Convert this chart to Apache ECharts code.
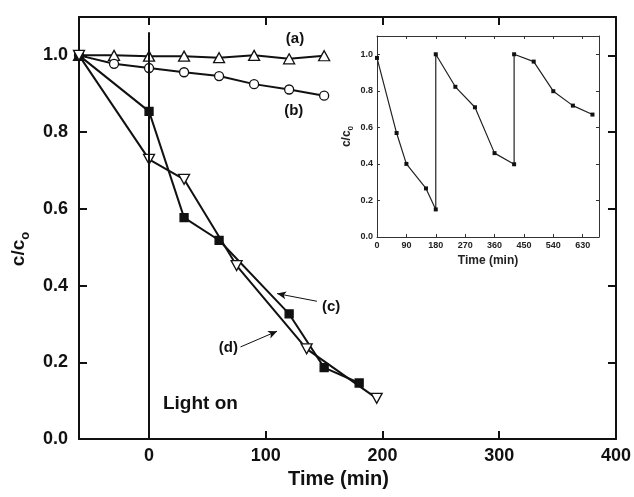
<!DOCTYPE html>
<html>
<head>
<meta charset="utf-8">
<script src="https://cdn.jsdelivr.net/npm/echarts/dist/echarts.min.js"></script>
<style>html,body{margin:0;padding:0;background:#fff;}#c{width:634px;height:497px;}</style>
</head>
<body>
<div id="c"></div>
<script>
// ---- main chart data ----
const timeA = [-60, -30, 0, 30, 60, 90, 120, 150];
const valuesA = [1.0, 1.0, 0.998, 0.998, 0.994, 1.0, 0.991, 0.999];
const timeB = [-60, -30, 0, 30, 60, 90, 120, 150];
const valuesB = [1.0, 0.978, 0.967, 0.956, 0.946, 0.925, 0.911, 0.895];
const timeC = [-60, 0, 30, 60, 120, 150, 180];
const valuesC = [1.0, 0.854, 0.577, 0.518, 0.326, 0.186, 0.146];
const timeD = [-60, 0, 30, 75, 135, 195];
const valuesD = [1.0, 0.729, 0.677, 0.452, 0.235, 0.106];
const mainXTicks = [0, 100, 200, 300, 400];
const mainYTicks = [0, 0.2, 0.4, 0.6, 0.8, 1.0];
const lightOnTime = 0;

// ---- inset data ----
const insetTime = [0, 60, 90, 150, 180, 180, 240, 300, 360, 420, 420, 480, 540, 600, 660];
const insetValues = [0.98, 0.569, 0.40, 0.266, 0.151, 1.0, 0.822, 0.71, 0.459, 0.398, 1.0, 0.96, 0.798, 0.719, 0.67];
const insetXTicks = [0, 90, 180, 270, 360, 450, 540, 630];
const insetYTicks = [0, 0.2, 0.4, 0.6, 0.8, 1.0];

// ---- annotation texts ----
const curveLabels = ['(a)', '(b)', '(c)', '(d)'];
const lightOnText = 'Light on';

const zip = (xs, ys) => xs.map((x, i) => [x, ys[i]]);
const F = '"Liberation Sans", Arial, sans-serif';
const black = '#111';

const chart = echarts.init(document.getElementById('c'), null, {renderer: 'canvas'});

const mainAxisCommon = {
  axisLine: {show: true, onZero: false, lineStyle: {color: black, width: 2}},
  axisTick: {show: true, inside: true, length: 8, lineStyle: {color: black, width: 2}},
  splitLine: {show: false}
};
const insetAxisCommon = {
  axisLine: {show: true, onZero: false, lineStyle: {color: '#333', width: 1}},
  axisTick: {show: true, inside: true, length: 3, lineStyle: {color: '#333', width: 1}},
  splitLine: {show: false}
};

function lineSeries(name, data, symbol, size, rotate, filled) {
  return {
    name, type: 'line', xAxisIndex: 0, yAxisIndex: 0, data,
    symbol, symbolSize: size, symbolRotate: rotate, showAllSymbol: true,
    lineStyle: {color: black, width: 2},
    itemStyle: {color: filled ? black : '#fff', borderColor: black, borderWidth: 1.3},
    z: 3
  };
}

function textPoint(text, coord, size) {
  return {
    coord, symbol: 'circle', symbolSize: 0, value: text,
    label: {show: true, position: 'inside', formatter: text, color: black,
      fontFamily: F, fontWeight: 'bold', fontSize: size}
  };
}

const option = {
  backgroundColor: '#fff',
  animation: false,
  grid: [
    {left: 79, top: 17, width: 537, height: 422},
    {left: 377, top: 36, width: 222, height: 201}
  ],
  xAxis: [
    Object.assign({}, mainAxisCommon, {
      type: 'value', gridIndex: 0, position: 'bottom', min: -60, max: 400,
      axisTick: Object.assign({}, mainAxisCommon.axisTick, {customValues: mainXTicks}),
      axisLabel: {customValues: mainXTicks, color: black, fontFamily: F, fontWeight: 'bold', fontSize: 18, margin: 8},
      name: 'Time (min)', nameLocation: 'middle', nameGap: 29,
      nameTextStyle: {color: black, fontFamily: F, fontWeight: 'bold', fontSize: 20, padding: [0, 18, 0, 0]}
    }),
    Object.assign({}, mainAxisCommon, {
      type: 'value', gridIndex: 0, position: 'top', min: -60, max: 400,
      axisTick: Object.assign({}, mainAxisCommon.axisTick, {customValues: mainXTicks}),
      axisLabel: {show: false}
    }),
    Object.assign({}, insetAxisCommon, {
      type: 'value', gridIndex: 1, position: 'bottom', min: 0, max: 680,
      axisTick: Object.assign({}, insetAxisCommon.axisTick, {customValues: insetXTicks}),
      axisLabel: {customValues: insetXTicks, color: '#222', fontFamily: F, fontWeight: 'bold', fontSize: 9, margin: 4},
      name: 'Time (min)', nameLocation: 'middle', nameGap: 18,
      nameTextStyle: {color: '#222', fontFamily: F, fontWeight: 'bold', fontSize: 12}
    }),
    Object.assign({}, insetAxisCommon, {
      type: 'value', gridIndex: 1, position: 'top', min: 0, max: 680,
      axisTick: Object.assign({}, insetAxisCommon.axisTick, {customValues: insetXTicks}),
      axisLabel: {show: false}
    })
  ],
  yAxis: [
    Object.assign({}, mainAxisCommon, {
      type: 'value', gridIndex: 0, position: 'left', min: 0, max: 1.1,
      axisTick: Object.assign({}, mainAxisCommon.axisTick, {customValues: mainYTicks}),
      axisLabel: {customValues: mainYTicks, formatter: v => v.toFixed(1), color: black, fontFamily: F, fontWeight: 'bold', fontSize: 18, margin: 11},
      name: '{a|c/c}{s|o}', nameLocation: 'middle', nameGap: 46,
      nameTextStyle: {padding: [0, 42, 0, 0], rich: {
        a: {color: black, fontFamily: F, fontWeight: 'bold', fontSize: 19, lineHeight: 26, verticalAlign: 'middle'},
        s: {color: black, fontFamily: F, fontWeight: 'bold', fontSize: 13, lineHeight: 26, verticalAlign: 'bottom'}
      }}
    }),
    Object.assign({}, mainAxisCommon, {
      type: 'value', gridIndex: 0, position: 'right', min: 0, max: 1.1,
      axisTick: Object.assign({}, mainAxisCommon.axisTick, {customValues: mainYTicks}),
      axisLabel: {show: false}
    }),
    Object.assign({}, insetAxisCommon, {
      type: 'value', gridIndex: 1, position: 'left', min: 0, max: 1.1,
      axisTick: Object.assign({}, insetAxisCommon.axisTick, {customValues: insetYTicks}),
      axisLabel: {customValues: insetYTicks, formatter: v => v.toFixed(1), color: '#222', fontFamily: F, fontWeight: 'bold', fontSize: 9, margin: 4},
      name: '{a|c/c}{s|0}', nameLocation: 'middle', nameGap: 22,
      nameTextStyle: {rich: {
        a: {color: '#222', fontFamily: F, fontWeight: 'bold', fontSize: 12, lineHeight: 16, verticalAlign: 'middle'},
        s: {color: '#222', fontFamily: F, fontWeight: 'bold', fontSize: 8, lineHeight: 16, verticalAlign: 'bottom'}
      }}
    }),
    Object.assign({}, insetAxisCommon, {
      type: 'value', gridIndex: 1, position: 'right', min: 0, max: 1.1,
      axisTick: Object.assign({}, insetAxisCommon.axisTick, {customValues: insetYTicks}),
      axisLabel: {show: false}
    })
  ],
  series: [
    Object.assign(lineSeries('a', zip(timeA, valuesA), 'triangle', [11, 10], 0, false), {
      markLine: {
        silent: true, symbol: ['none', 'none'], label: {show: false},
        lineStyle: {color: black, width: 2, type: 'solid'},
        data: [[{coord: [lightOnTime, 0]}, {coord: [lightOnTime, 1.06]}]]
      },
      markPoint: {
        silent: true,
        data: [
          textPoint(curveLabels[0], [125, 1.043], 15),
          textPoint(curveLabels[1], [124, 0.856], 15),
          textPoint(curveLabels[2], [156, 0.344], 15),
          textPoint(curveLabels[3], [68, 0.238], 15),
          textPoint(lightOnText, [44, 0.091], 19)
        ]
      }
    }),
    lineSeries('b', zip(timeB, valuesB), 'circle', 9, 0, false),
    Object.assign(lineSeries('c', zip(timeC, valuesC), 'rect', 8, 0, true), {
      markLine: {
        silent: true, symbol: ['none', 'arrow'], symbolSize: [6, 9], label: {show: false},
        lineStyle: {color: black, width: 1, type: 'solid'},
        data: [
          [{coord: [143.8, 0.359]}, {coord: [109.7, 0.379]}],
          [{coord: [78.4, 0.240]}, {coord: [109.7, 0.281]}]
        ]
      }
    }),
    lineSeries('d', zip(timeD, valuesD), 'triangle', [11, 10], 180, false),
    {
      name: 'inset', type: 'line', xAxisIndex: 2, yAxisIndex: 2,
      data: zip(insetTime, insetValues),
      symbol: 'rect', symbolSize: 4, showAllSymbol: true,
      lineStyle: {color: '#222', width: 1.2},
      itemStyle: {color: '#111'}
    }
  ]
};
chart.setOption(option);
</script>
</body>
</html>
